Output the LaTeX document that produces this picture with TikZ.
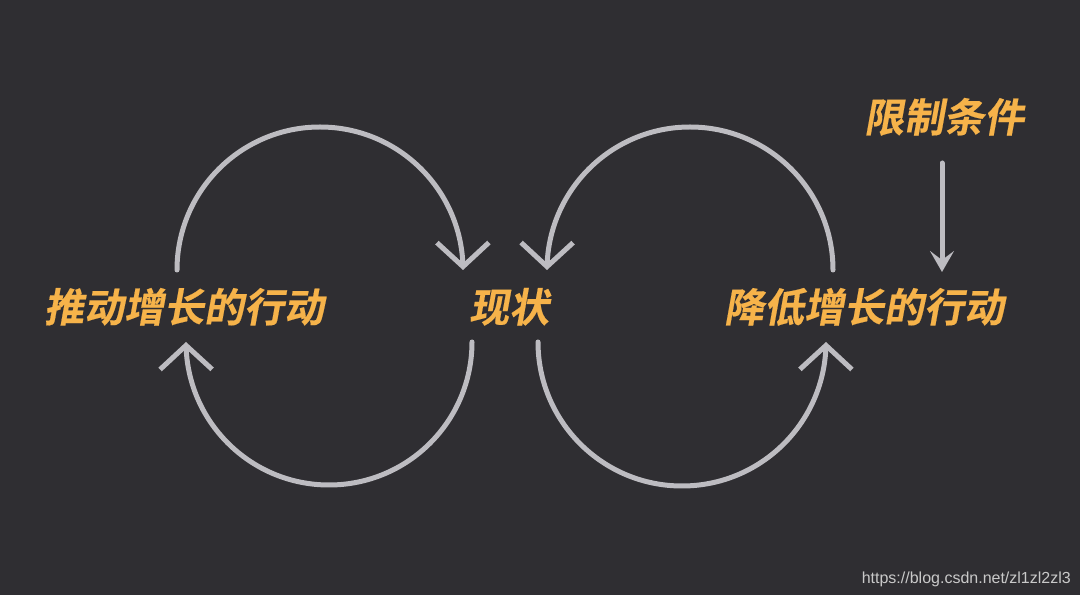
\documentclass[tikz,border=0pt]{standalone}
\usepackage{fontspec}
\newfontfamily\cjk[FakeBold=0.4,FakeSlant=0.18]{Noto Sans CJK SC Bold}
\setsansfont{Liberation Sans}
\usetikzlibrary{arrows.meta,bending}
\definecolor{bgc}{HTML}{2F2E32}
\definecolor{txt}{HTML}{F6B34A}
\definecolor{arcc}{HTML}{BDBCC1}
\definecolor{urlc}{HTML}{C9C9C9}
\tikzset{
  lbl/.style={text=txt, font=\cjk\fontsize{40pt}{40pt}\selectfont, anchor=base, inner sep=0pt},
  loop/.style={draw=arcc, line width=5pt, line cap=round, -{Straight Barb[length=24pt,width=52pt,line width=5pt,flex]}},
  down/.style={draw=arcc, line width=5pt, line cap=round, -{Stealth[length=21pt,width=24pt,inset=9pt]}},
}
\begin{document}
\begin{tikzpicture}[x=1pt,y=1pt]
\fill[bgc] (0,0) rectangle (1080,595);
\useasboundingbox (0,0) rectangle (1080,595);
% text nodes
\node[lbl] (push) at (184,273) {推动增长的行动};
\node[lbl] (cur) at (509,273) {现状};
\node[lbl] (reduce) at (864,273) {降低增长的行动};
\node[lbl] (limit) at (944,463) {限制条件};
\node[anchor=base east, inner sep=0pt, text=urlc, font=\sffamily\fontsize{16pt}{16pt}\selectfont] (url) at (1071,12) {https://blog.csdn.net/zl1zl2zl3};
% connector end points
\coordinate (p1) at (177,325);
\coordinate (p2) at (472,253);
\coordinate (r1) at (833,325);
\coordinate (r2) at (538,253);
\coordinate (l1) at (942,432);
\coordinate (l2) at (942,323);
% loops
\draw[loop] (p1) arc[start angle=180, end angle=0, radius=143pt];
\draw[loop] (p2) arc[start angle=0, end angle=-180, radius=143pt];
\draw[loop] (r1) arc[start angle=0, end angle=180, radius=143pt];
\draw[loop] (r2) arc[start angle=180, end angle=360, radius=144pt];
\draw[down] (l1) -- (l2);
\end{tikzpicture}
\end{document}
